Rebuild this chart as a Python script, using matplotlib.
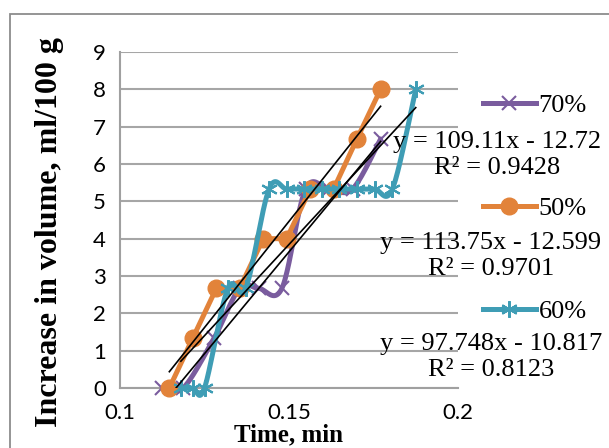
import numpy as np
import matplotlib
matplotlib.use('Agg')
import matplotlib.pyplot as plt
from matplotlib.lines import Line2D
from matplotlib.patches import Rectangle

# ---------------- data ----------------
series_labels = ['70%', '50%', '60%']

x70 = [0.1125, 0.1187, 0.1278, 0.1354, 0.1410, 0.1479, 0.1549, 0.1618, 0.1688, 0.1771]
y70 = [0, 0, 1.33, 2.67, 2.67, 2.67, 5.33, 5.33, 5.33, 6.67]

x50 = [0.1146, 0.1215, 0.1285, 0.1354, 0.1424, 0.1493, 0.1563, 0.1632, 0.1701, 0.1771]
y50 = [0, 1.33, 2.67, 2.67, 4.0, 4.0, 5.33, 5.33, 6.67, 8.0]

x60 = [0.1180, 0.1215, 0.1250, 0.1319, 0.1372, 0.1441, 0.1493, 0.1545, 0.1597,
       0.1649, 0.1701, 0.1753, 0.1806, 0.1875]
y60 = [0, 0, 0, 2.67, 2.67, 5.33, 5.33, 5.33, 5.33, 5.33, 5.33, 5.33, 5.33, 8.0]

slopes = [109.11, 113.75, 97.748]
intercepts = [-12.72, -12.599, -10.817]
r2_values = [0.9428, 0.9701, 0.8123]

xticks = [0.1, 0.15, 0.2]
xticklabels = ['0.1', '0.15', '0.2']
yticks = [0, 1, 2, 3, 4, 5, 6, 7, 8, 9]

xlabel = 'Time, min'
ylabel = 'Increase in volume, ml/100 g'

# ---------------- style ----------------
colors = ['#7A5C9E', '#E2833A', '#3F9DB5']
W, H = 609, 448
serif = ['Liberation Serif', 'DejaVu Serif']
tickfont = ['Lato', 'DejaVu Sans']

fig = plt.figure(figsize=(W / 100, H / 100), dpi=100)
ax = fig.add_axes([120 / W, 1 - 388 / H, 338 / W, 336 / H])
ax.set_xlim(0.1, 0.2)
ax.set_ylim(0, 9)

# outer chart border
fig.patches.append(Rectangle((10 / W, -0.2), 1.2, 1.2 - 14 / H, transform=fig.transFigure,
                             fill=False, edgecolor='#8C8C8C', linewidth=1.3))

ax.set_xticks(xticks)
ax.set_xticklabels(xticklabels)
ax.set_yticks(yticks)
for lab in ax.get_xticklabels() + ax.get_yticklabels():
    lab.set_family(tickfont)
    lab.set_fontsize(16)
ax.tick_params(axis='x', length=0, pad=11)
ax.tick_params(axis='y', length=0, pad=10)
ax.yaxis.grid(True, color='#A6A6A6', linewidth=1.5)
ax.set_axisbelow(True)
for s in ['top', 'right']:
    ax.spines[s].set_visible(False)
for s in ['left', 'bottom']:
    ax.spines[s].set_color('#A0A0A0')
    ax.spines[s].set_linewidth(1.5)


def smooth(xs, ys, n=24):
    pts = ax.transData.transform(np.column_stack([xs, ys]))
    N = len(pts)
    out = []
    t = np.linspace(0, 1, n)[:, None]
    for i in range(N - 1):
        p0 = pts[i - 1] if i > 0 else pts[i]
        p1 = pts[i]
        p2 = pts[i + 1]
        p3 = pts[i + 2] if i + 2 < N else pts[i + 1]
        c1 = p1 + (p2 - p0) / 6
        c2 = p2 - (p3 - p1) / 6
        seg = (1 - t) ** 3 * p1 + 3 * (1 - t) ** 2 * t * c1 + 3 * (1 - t) * t ** 2 * c2 + t ** 3 * p2
        out.append(seg if i == 0 else seg[1:])
    out = np.vstack(out)
    d = ax.transData.inverted().transform(out)
    return d[:, 0], d[:, 1]


lw = 3.6
# 70% purple (smoothed)
sx, sy = smooth(x70, y70)
ax.plot(sx, sy, color=colors[0], lw=lw, solid_capstyle='round', zorder=3, clip_on=False)
ax.plot(x70, y70, ls='none', marker='x', ms=10, mew=1.5, color=colors[0], zorder=3, clip_on=False)
# 50% orange (straight)
ax.plot(x50, y50, color=colors[1], lw=lw, marker='o', ms=12, zorder=4, clip_on=False)
# 60% teal (smoothed)
sx, sy = smooth(x60, y60)
ax.plot(sx, sy, color=colors[2], lw=lw, solid_capstyle='round', zorder=5, clip_on=False)
ax.plot(x60, y60, ls='none', marker=(6, 2, 0), ms=12, mew=1.5, color=colors[2], zorder=5, clip_on=False)

# trendlines
for xs, m, b in zip([x70, x50, x60], slopes, intercepts):
    tx = np.array([min(xs), max(xs)])
    ax.plot(tx, m * tx + b, color='black', lw=1.2, zorder=6)

# legend
handles = [
    Line2D([], [], color=colors[0], lw=lw, marker='x', ms=10, mew=1.5),
    Line2D([], [], color=colors[1], lw=lw, marker='o', ms=12),
    Line2D([], [], color=colors[2], lw=lw, marker=(6, 2, 0), ms=12, mew=1.5),
]
leg = fig.legend(handles, series_labels, loc='upper left',
                 bbox_to_anchor=(483 / W, 1 - 94 / H), frameon=False,
                 prop={'family': serif, 'size': 19}, handlelength=2.0,
                 handletextpad=0.1, labelspacing=3.0, borderpad=0, borderaxespad=0)

# trendline equations
eq_pos = [(497, 155), (491, 256), (491, 357)]
for (px, py), m, b, r2 in zip(eq_pos, slopes, intercepts, r2_values):
    txt = f"y = {m}x - {abs(b)}\nR\u00b2 = {r2}"
    fig.text(px / W, 1 - py / H, txt, ha='center', va='center', family=serif,
             fontsize=19, linespacing=1.2, zorder=7)

# axis labels
fig.text(50 / W, 1 - 232 / H, ylabel, rotation=90, ha='center', va='center',
         family=serif, fontsize=23, fontweight='bold')
fig.text(288 / W, 1 - 435 / H, xlabel, ha='center', va='center',
         family=serif, fontsize=18, fontweight='bold')

fig.savefig('out.png', dpi=100)
